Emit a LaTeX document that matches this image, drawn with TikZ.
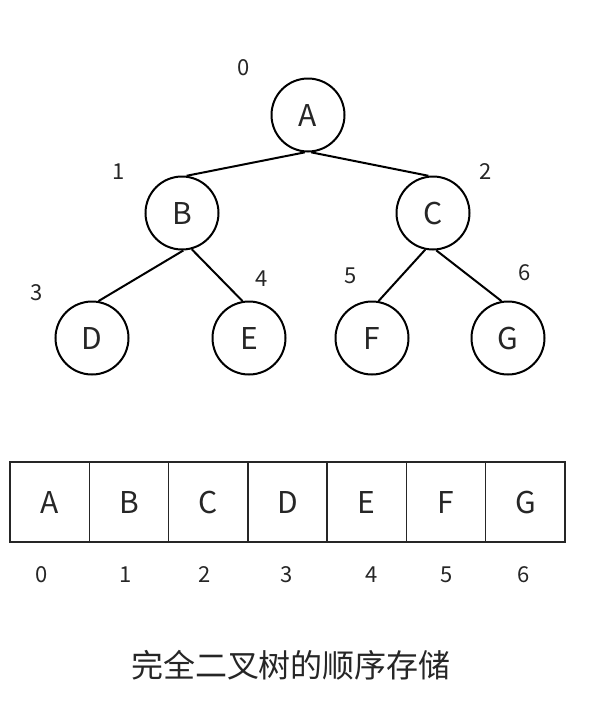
\documentclass[tikz,border=0pt]{standalone}
\usepackage{fontspec}
\setmainfont{Noto Sans CJK SC}
\usetikzlibrary{positioning}
\definecolor{txt}{HTML}{262626}

\begin{document}
\begin{tikzpicture}[x=1pt,y=-1pt,
		vertex/.style={draw, circle, line width=2pt, minimum size=73pt, inner sep=0pt, text=txt, font=\fontsize{30}{30}\selectfont},
		idx/.style={text=txt, font=\fontsize{22}{22}\selectfont},
		cell/.style={draw=txt, line width=1.4pt, outer sep=0pt, minimum width=79.3pt, minimum height=80pt, inner sep=0pt, text=txt, font=\fontsize{30}{30}\selectfont},
		edge/.style={line width=2pt}]
			\useasboundingbox (0,0) rectangle (612,713);
			% tree
			\node[vertex] (A) at (308,115) {A};
			\node[vertex] (B) at (182,213) {B};
			\node[vertex] (C) at (433,213) {C};
			\node[vertex] (D) at (92,338) {D};
			\node[vertex] (E) at (249,338) {E};
			\node[vertex] (F) at (372,338) {F};
			\node[vertex] (G) at (508,338) {G};
			\draw[edge] (A.265) -- (B.83);
			\draw[edge] (A.275) -- (C.97);
			\draw[edge] (B.272) -- (D.80);
			\draw[edge] (B.285) -- (E.100);
			\draw[edge] (C.258) -- (F.80);
			\draw[edge] (C.275) -- (G.100);
			\node[idx] (iA) at (244,68) {0};
			\node[idx] (iB) at (119,172) {1};
			\node[idx] (iC) at (486,172) {2};
			\node[idx] (iD) at (37,293) {3};
			\node[idx] (iE) at (262,279) {4};
			\node[idx] (iF) at (351,276) {5};
			\node[idx] (iG) at (525,273) {6};
			% array
			\node[cell] (a0) at (49.6,502) {A};
			\node[cell, right=0pt of a0] (a1) {B};
			\node[cell, right=0pt of a1] (a2) {C};
			\node[cell, right=0pt of a2] (a3) {D};
			\node[cell, right=0pt of a3] (a4) {E};
			\node[cell, right=0pt of a4] (a5) {F};
			\node[cell, right=0pt of a5] (a6) {G};
			\node[idx] (n0) at (42,575) {0};
			\node[idx] (n1) at (126,575) {1};
			\node[idx] (n2) at (205,575) {2};
			\node[idx] (n3) at (287,575) {3};
			\node[idx] (n4) at (372,575) {4};
			\node[idx] (n5) at (447,575) {5};
			\node[idx] (n6) at (524,575) {6};
			\node[text=txt, font=\fontsize{32}{32}\selectfont] (title) at (291,665) {完全二叉树的顺序存储};
		\end{tikzpicture}
\end{document}
